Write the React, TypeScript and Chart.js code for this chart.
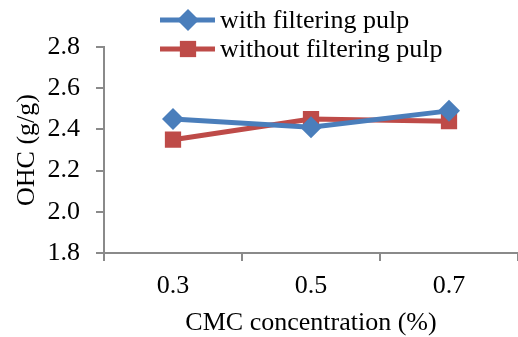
import React, { useEffect, useRef } from "react";
import { Chart, registerables } from "chart.js";

Chart.register(...registerables);

const categories = ["0.3", "0.5", "0.7"];
const withFiltering = [2.45, 2.41, 2.49];
const withoutFiltering = [2.35, 2.45, 2.44];
const yTicks = [1.8, 2.0, 2.2, 2.4, 2.6, 2.8];
const seriesLabels = ["with filtering pulp", "without filtering pulp"];
const xTitle = "CMC concentration (%)";
const yTitle = "OHC (g/g)";

const BLUE = "#4a7ebb";
const RED = "#be4b48";
const AXIS = "#8a8a8a";
const FONT = "'Liberation Serif', 'Times New Roman', serif";
const FS = 26;

function drawMarker(ctx: CanvasRenderingContext2D, style: string, x: number, y: number, r: number, color: string) {
  ctx.save();
  ctx.fillStyle = color;
  ctx.beginPath();
  if (style === "rectRot") {
    ctx.moveTo(x, y - r);
    ctx.lineTo(x + r, y);
    ctx.lineTo(x, y + r);
    ctx.lineTo(x - r, y);
    ctx.closePath();
  } else {
    const s = Math.SQRT1_2 * r;
    ctx.rect(x - s, y - s, 2 * s, 2 * s);
  }
  ctx.fill();
  ctx.restore();
}

const legendPlugin = {
  id: "customLegend",
  afterDraw(chart: any) {
    const ctx: CanvasRenderingContext2D = chart.ctx;
    const x0 = chart.chartArea.left + 56;
    const rowY = [20, 49];
    chart.data.datasets.forEach((ds: any, i: number) => {
      const y = rowY[i];
      ctx.save();
      ctx.strokeStyle = ds.borderColor;
      ctx.lineWidth = ds.borderWidth;
      ctx.beginPath();
      ctx.moveTo(x0, y);
      ctx.lineTo(x0 + 55, y);
      ctx.stroke();
      drawMarker(ctx, ds.pointStyle, x0 + 28, y, ds.pointRadius, ds.backgroundColor);
      ctx.fillStyle = "#000";
      ctx.font = `${FS}px ${FONT}`;
      ctx.textAlign = "left";
      ctx.textBaseline = "middle";
      ctx.fillText(ds.label, x0 + 60, y + 1);
      ctx.restore();
    });
  },
};

export default function App() {
  const ref = useRef<HTMLCanvasElement | null>(null);

  useEffect(() => {
    document.body.style.margin = "0";
    const canvas = ref.current;
    if (!canvas) return;
    const chart = new Chart(canvas, {
      type: "line",
      data: {
        labels: categories,
        datasets: [
          {
            label: seriesLabels[0],
            data: withFiltering,
            borderColor: BLUE,
            backgroundColor: BLUE,
            borderWidth: 5,
            pointStyle: "rectRot",
            pointRadius: 11,
            pointHoverRadius: 11,
            pointBorderWidth: 0,
            tension: 0,
          },
          {
            label: seriesLabels[1],
            data: withoutFiltering,
            borderColor: RED,
            backgroundColor: RED,
            borderWidth: 5,
            pointStyle: "rect",
            pointRadius: 11.5,
            pointHoverRadius: 11.5,
            pointBorderWidth: 0,
            tension: 0,
          },
        ],
      },
      options: {
        animation: false,
        responsive: true,
        maintainAspectRatio: false,
        layout: { autoPadding: false, padding: { top: 47, left: 12, right: -4, bottom: -2 } },
        plugins: {
          legend: { display: false },
          tooltip: { enabled: false },
        },
        scales: {
          x: {
            type: "category",
            offset: true,
            afterFit: (axis: any) => {
              axis.height = 86;
              axis.paddingLeft = 0;
              axis.paddingRight = 0;
            },
            grid: {
              offset: true,
              drawOnChartArea: false,
              drawTicks: true,
              tickLength: 8,
              color: AXIS,
              lineWidth: 2,
            },
            border: { color: AXIS, width: 2 },
            ticks: {
              color: "#000",
              font: { family: FONT, size: FS },
              padding: 10,
            },
            title: {
              display: true,
              text: xTitle,
              color: "#000",
              font: { family: FONT, size: FS },
              padding: { top: 4, bottom: 0 },
            },
          },
          y: {
            min: 1.8,
            max: 2.8,
            afterBuildTicks: (axis: any) => {
              axis.ticks = yTicks.map((v) => ({ value: v }));
            },
            afterFit: (axis: any) => {
              axis.width = 92;
            },
            grid: {
              drawOnChartArea: false,
              drawTicks: true,
              tickLength: 8,
              color: AXIS,
              lineWidth: 2,
            },
            border: { color: AXIS, width: 2 },
            ticks: {
              color: "#000",
              font: { family: FONT, size: FS },
              padding: 16,
              callback: (v: any) => Number(v).toFixed(1),
            },
            title: {
              display: true,
              text: yTitle,
              color: "#000",
              font: { family: FONT, size: FS },
              padding: { top: 0, bottom: 0 },
            },
          },
        },
      },
      plugins: [legendPlugin],
    });
    return () => chart.destroy();
  }, []);

  return (
    <div style={{ width: 518, height: 337, position: "relative" }}>
      <canvas ref={ref} />
    </div>
  );
}
